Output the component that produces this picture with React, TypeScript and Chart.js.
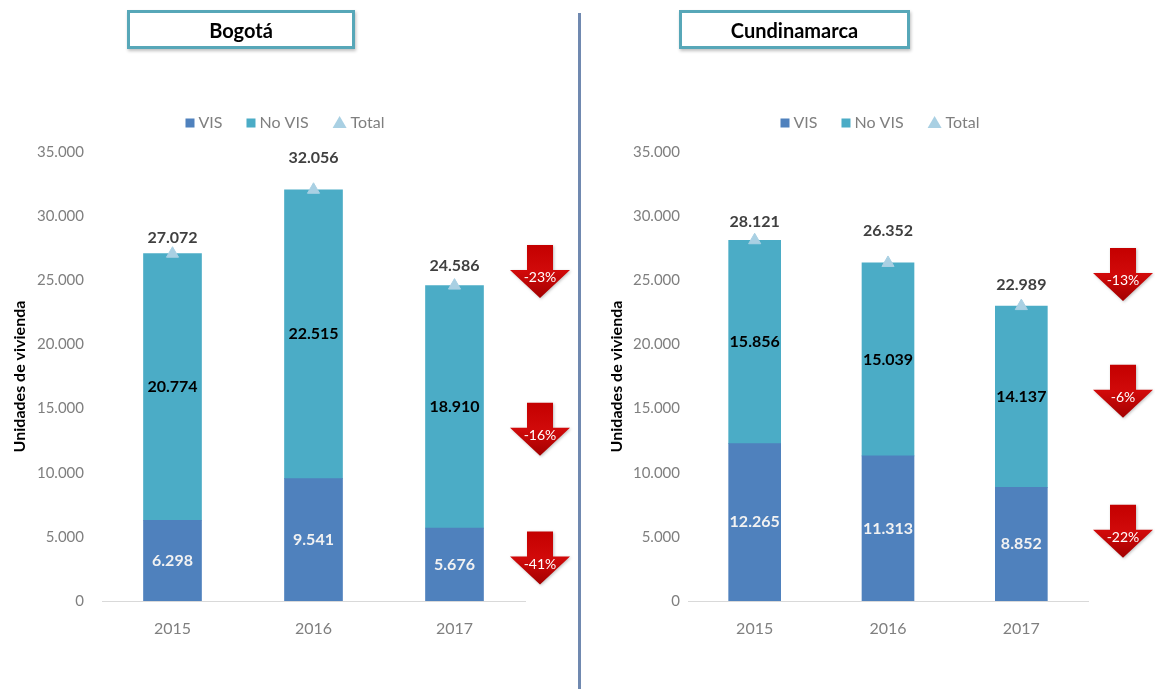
import React, { useEffect, useRef } from 'react';
import { Chart, registerables } from 'chart.js';

Chart.register(...registerables);
Chart.defaults.font.family = 'Lato, "Noto Sans", sans-serif';

// ---- Data ----
const years = ['2015', '2016', '2017'];

const bogotaVIS = [6298, 9541, 5676];
const bogotaNoVIS = [20774, 22515, 18910];
const bogotaTotal = [27072, 32056, 24586];
const bogotaChange = ['-23%', '-16%', '-41%'];

const cundVIS = [12265, 11313, 8852];
const cundNoVIS = [15856, 15039, 14137];
const cundTotal = [28121, 26352, 22989];
const cundChange = ['-13%', '-6%', '-22%'];

const seriesNames = ['VIS', 'No VIS', 'Total'];
const yAxisTitle = 'Unidades de vivienda';

// ---- Styles ----
const VIS_COLOR = '#4f81bd';
const NOVIS_COLOR = '#4bacc6';
const TOTAL_COLOR = '#a9d0e3';
const GRAY = '#7f7f7f';

function fmt(n: number) {
  return String(n).replace(/\B(?=(\d{3})+(?!\d))/g, '.');
}

type PanelCfg = {
  vis: number[];
  noVis: number[];
  total: number[];
  change: string[];
  arrowTops: number[]; // value positions (y scale) of the arrow tops
  totalLift: number[]; // px above total point for total labels
  axisWidth: number;
  rightPad: number;
  tickPad: number;
  titlePad: number;
  barThickness: number;
  legendCenter: number;
  arrowDx: number;
};

function drawArrow(ctx: CanvasRenderingContext2D, cx: number, top: number, text: string) {
  const sw = 13, sh = 25, hw = 30, hh = 28;
  ctx.save();
  const g = ctx.createLinearGradient(0, top, 0, top + sh + hh);
  g.addColorStop(0, '#c40000');
  g.addColorStop(0.5, '#d10a0a');
  g.addColorStop(1, '#a30000');
  ctx.shadowColor = 'rgba(0,0,0,0.25)';
  ctx.shadowBlur = 3;
  ctx.shadowOffsetX = 1;
  ctx.shadowOffsetY = 1;
  ctx.beginPath();
  ctx.moveTo(cx - sw, top);
  ctx.lineTo(cx + sw, top);
  ctx.lineTo(cx + sw, top + sh);
  ctx.lineTo(cx + hw, top + sh);
  ctx.lineTo(cx, top + sh + hh);
  ctx.lineTo(cx - hw, top + sh);
  ctx.lineTo(cx - sw, top + sh);
  ctx.closePath();
  ctx.fillStyle = g;
  ctx.fill();
  ctx.shadowColor = 'transparent';
  ctx.fillStyle = '#ffffff';
  ctx.font = '14px Lato, "Noto Sans", sans-serif';
  ctx.textAlign = 'center';
  ctx.textBaseline = 'middle';
  ctx.fillText(text, cx, top + sh + 8);
  ctx.restore();
}

function Panel({ cfg, left, width }: { cfg: PanelCfg; left: number; width: number }) {
  const ref = useRef<HTMLCanvasElement>(null);

  useEffect(() => {
    const canvas = ref.current!;
    const overlay = {
      id: 'overlay',
      afterDatasetsDraw(chart: any) {
        const ctx: CanvasRenderingContext2D = chart.ctx;
        ctx.save();
        ctx.textAlign = 'center';
        ctx.textBaseline = 'middle';
        ctx.font = 'bold 16px Lato, "Noto Sans", sans-serif';
        const m0 = chart.getDatasetMeta(0);
        m0.data.forEach((el: any, i: number) => {
          ctx.fillStyle = '#f2f2f2';
          ctx.fillText(fmt(cfg.vis[i]), el.x, (el.y + el.base) / 2);
        });
        const m1 = chart.getDatasetMeta(1);
        m1.data.forEach((el: any, i: number) => {
          ctx.fillStyle = '#000000';
          ctx.fillText(fmt(cfg.noVis[i]), el.x, (el.y + el.base) / 2);
        });
        const m2 = chart.getDatasetMeta(2);
        m2.data.forEach((el: any, i: number) => {
          ctx.fillStyle = '#404040';
          ctx.fillText(fmt(cfg.total[i]), el.x, el.y - cfg.totalLift[i]);
        });
        ctx.restore();
      },
      afterDraw(chart: any) {
        const ctx: CanvasRenderingContext2D = chart.ctx;
        const y = chart.scales.y;
        cfg.arrowTops.forEach((v, i) => {
          drawArrow(ctx, chart.chartArea.right + cfg.arrowDx, y.getPixelForValue(v), cfg.change[i]);
        });
        ctx.save();
        ctx.font = '16px Lato, "Noto Sans", sans-serif';
        ctx.textBaseline = 'middle';
        ctx.textAlign = 'left';
        const colors = [VIS_COLOR, NOVIS_COLOR, TOTAL_COLOR];
        const markerW = [9, 9, 14];
        const gap = 4;
        const itemGap = 24;
        const widths = seriesNames.map((t, i) => markerW[i] + gap + ctx.measureText(t).width);
        const totalW = widths.reduce((a, b) => a + b, 0) + itemGap * (seriesNames.length - 1);
        let x = cfg.legendCenter - totalW / 2;
        const ly = 123;
        seriesNames.forEach((t, i) => {
          ctx.fillStyle = colors[i];
          if (i < 2) {
            ctx.fillRect(x, ly - 4.5, 9, 9);
          } else {
            ctx.beginPath();
            ctx.moveTo(x + 7, ly - 7);
            ctx.lineTo(x + 14, ly + 5);
            ctx.lineTo(x, ly + 5);
            ctx.closePath();
            ctx.fill();
          }
          ctx.fillStyle = GRAY;
          ctx.fillText(t, x + markerW[i] + gap, ly);
          x += widths[i] + itemGap;
        });
        ctx.restore();
      },
    };

    const chart = new Chart(canvas, {
      type: 'bar',
      data: {
        labels: years,
        datasets: [
          {
            type: 'bar',
            label: seriesNames[0],
            data: cfg.vis,
            backgroundColor: VIS_COLOR,
            barThickness: cfg.barThickness,
            order: 2,
          },
          {
            type: 'bar',
            label: seriesNames[1],
            data: cfg.noVis,
            backgroundColor: NOVIS_COLOR,
            barThickness: cfg.barThickness,
            order: 2,
          },
          {
            type: 'line',
            label: seriesNames[2],
            data: cfg.total,
            showLine: false,
            pointStyle: 'triangle',
            pointRadius: 7,
            backgroundColor: TOTAL_COLOR,
            borderColor: TOTAL_COLOR,
            borderWidth: 1,
            order: 0,
          },
        ] as any,
      },
      options: {
        responsive: false,
        maintainAspectRatio: false,
        animation: false,
        events: [],
        layout: { padding: { top: 152, left: 0, right: cfg.rightPad, bottom: 0 } },
        plugins: {
          legend: { display: false },
          tooltip: { enabled: false },
          title: { display: false },
        },
        scales: {
          x: {
            stacked: true,
            grid: { display: false, drawTicks: false },
            border: { display: true, color: '#d9d9d9', width: 1 },
            ticks: { color: GRAY, font: { size: 16 }, padding: 18 },
            afterFit: (s: any) => {
              s.height = 88;
            },
          },
          y: {
            stacked: true,
            min: 0,
            max: 35000,
            grid: { display: false, drawTicks: false },
            border: { display: false },
            ticks: {
              stepSize: 5000,
              color: GRAY,
              font: { size: 15 },
              padding: cfg.tickPad,
              callback: (v: any) => fmt(Number(v)),
            },
            title: {
              display: true,
              text: yAxisTitle,
              color: '#000000',
              font: { size: 16, weight: 'bold' },
              padding: { top: cfg.titlePad, bottom: cfg.titlePad },
            },
            afterFit: (s: any) => {
              s.width = cfg.axisWidth;
            },
          },
        },
      } as any,
      plugins: [overlay],
    });
    return () => chart.destroy();
  }, []);

  return (
    <canvas
      ref={ref}
      width={width}
      height={689}
      style={{ position: 'absolute', left, top: 0, width, height: 689 }}
    />
  );
}

const titleBox = (left: number, width: number, text: string) => (
  <div
    style={{
      position: 'absolute',
      left,
      top: 10,
      width,
      height: 39,
      boxSizing: 'border-box',
      border: '3px solid #57a7b8',
      boxShadow: '1px 2px 3px rgba(0,0,0,0.25)',
      background: '#ffffff',
      display: 'flex',
      alignItems: 'center',
      justifyContent: 'center',
      fontFamily: 'Lato, "Noto Sans", sans-serif',
      fontWeight: 'bold',
      fontSize: 20,
      color: '#000000',
    }}
  >
    {text}
  </div>
);

export default function App() {
  const bogota: PanelCfg = {
    vis: bogotaVIS,
    noVis: bogotaNoVIS,
    total: bogotaTotal,
    change: bogotaChange,
    arrowTops: [27760, 15460, 5410],
    totalLift: [16, 32, 20],
    axisWidth: 102,
    rightPad: 54,
    tickPad: 18,
    titlePad: 10,
    barThickness: 58,
    legendCenter: 285,
    arrowDx: 15,
  };
  const cund: PanelCfg = {
    vis: cundVIS,
    noVis: cundNoVIS,
    total: cundTotal,
    change: cundChange,
    arrowTops: [27520, 18410, 7510],
    totalLift: [18, 32, 21],
    axisWidth: 109,
    rightPad: 67,
    tickPad: 8,
    titlePad: 28,
    barThickness: 52,
    legendCenter: 301,
    arrowDx: 35,
  };
  return (
    <div style={{ position: 'absolute', left: 0, top: 0, width: 1155, height: 689, background: '#ffffff', overflow: 'hidden' }}>
      <Panel cfg={bogota} left={0} width={579} />
      <Panel cfg={cund} left={579} width={576} />
      <div style={{ position: 'absolute', left: 578, top: 13, width: 3, height: 676, background: '#7089b0' }} />
      {titleBox(127, 228, 'Bogotá')}
      {titleBox(679, 231, 'Cundinamarca')}
    </div>
  );
}
